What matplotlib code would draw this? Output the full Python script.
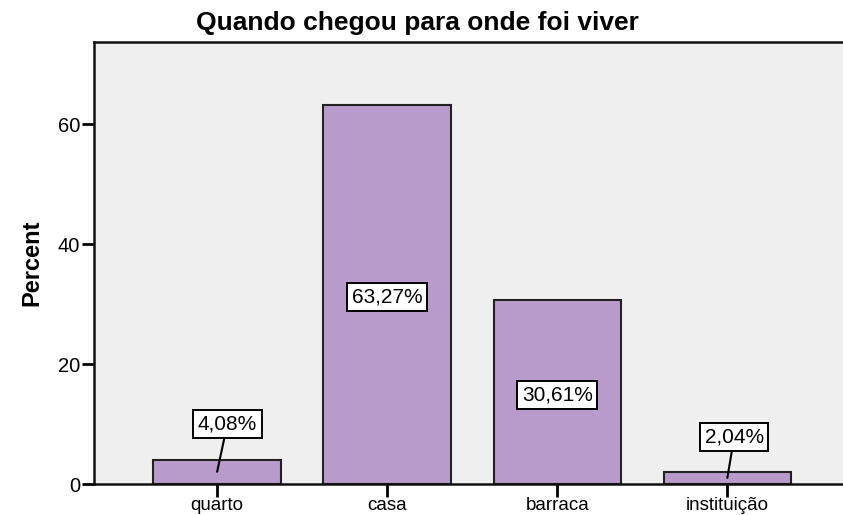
import matplotlib
matplotlib.use("Agg")
import matplotlib.pyplot as plt
import numpy as np

plt.rcParams['font.family'] = ['Liberation Sans', 'DejaVu Sans']

categorias = ["quarto", "casa", "barraca", "instituição"]
percentuais = [4.08, 63.27, 30.61, 2.04]
rotulos = ["4,08%", "63,27%", "30,61%", "2,04%"]

cor_barra = "#B89BCB"
fundo = "#EFEFEF"

fig = plt.figure(figsize=(8.43, 5.15), dpi=100)
ax = fig.add_axes([94/843, 1 - 484/515, 1 - 94/843, (484 - 42)/515])
ax.set_facecolor(fundo)

x = np.arange(len(categorias))
ax.bar(x, percentuais, width=0.75, color=cor_barra, edgecolor="#222222", linewidth=1.5, zorder=2)

ax.set_xlim(-0.724, 3.68)
ax.set_ylim(0, 73.7)
ax.set_yticks([0, 20, 40, 60])
ax.set_xticks(x)
ax.set_xticklabels(categorias)
ax.tick_params(axis="both", direction="out", length=9, width=2, labelsize=14.5, colors="black")
ax.tick_params(axis="x", pad=0.5, labelsize=13.5)
ax.tick_params(axis="y", pad=1)

for lado in ["left", "top", "bottom"]:
    ax.spines[lado].set_linewidth(1.8)
    ax.spines[lado].set_color("#111111")
ax.spines["right"].set_visible(False)

caixa = dict(boxstyle="square,pad=0.22", facecolor="white", edgecolor="black", linewidth=1.4)
for i, (v, txt) in enumerate(zip(percentuais, rotulos)):
    if v > 10:
        ax.text(i, v/2 - 0.5, txt, ha="center", va="center", fontsize=15, bbox=caixa, zorder=4)
    else:
        # rótulo fora da barra com linha de chamada
        ty = 10 if i == 0 else 7.8
        tx = i + 0.06 if i == 0 else i + 0.04
        ax.annotate(txt, xy=(i, v/2), xytext=(tx, ty), ha="center", va="center",
                    fontsize=15, bbox=caixa, zorder=4,
                    arrowprops=dict(arrowstyle="-", color="black", lw=1.5, shrinkA=0, shrinkB=0))

ax.set_ylabel("Percent", fontsize=17, fontweight="bold", labelpad=10)
fig.text(417/843, 1 - 23/515, "Quando chegou para onde foi viver", ha="center", va="center",
         fontsize=19, fontweight="bold")

fig.savefig("out.png", dpi=100)
